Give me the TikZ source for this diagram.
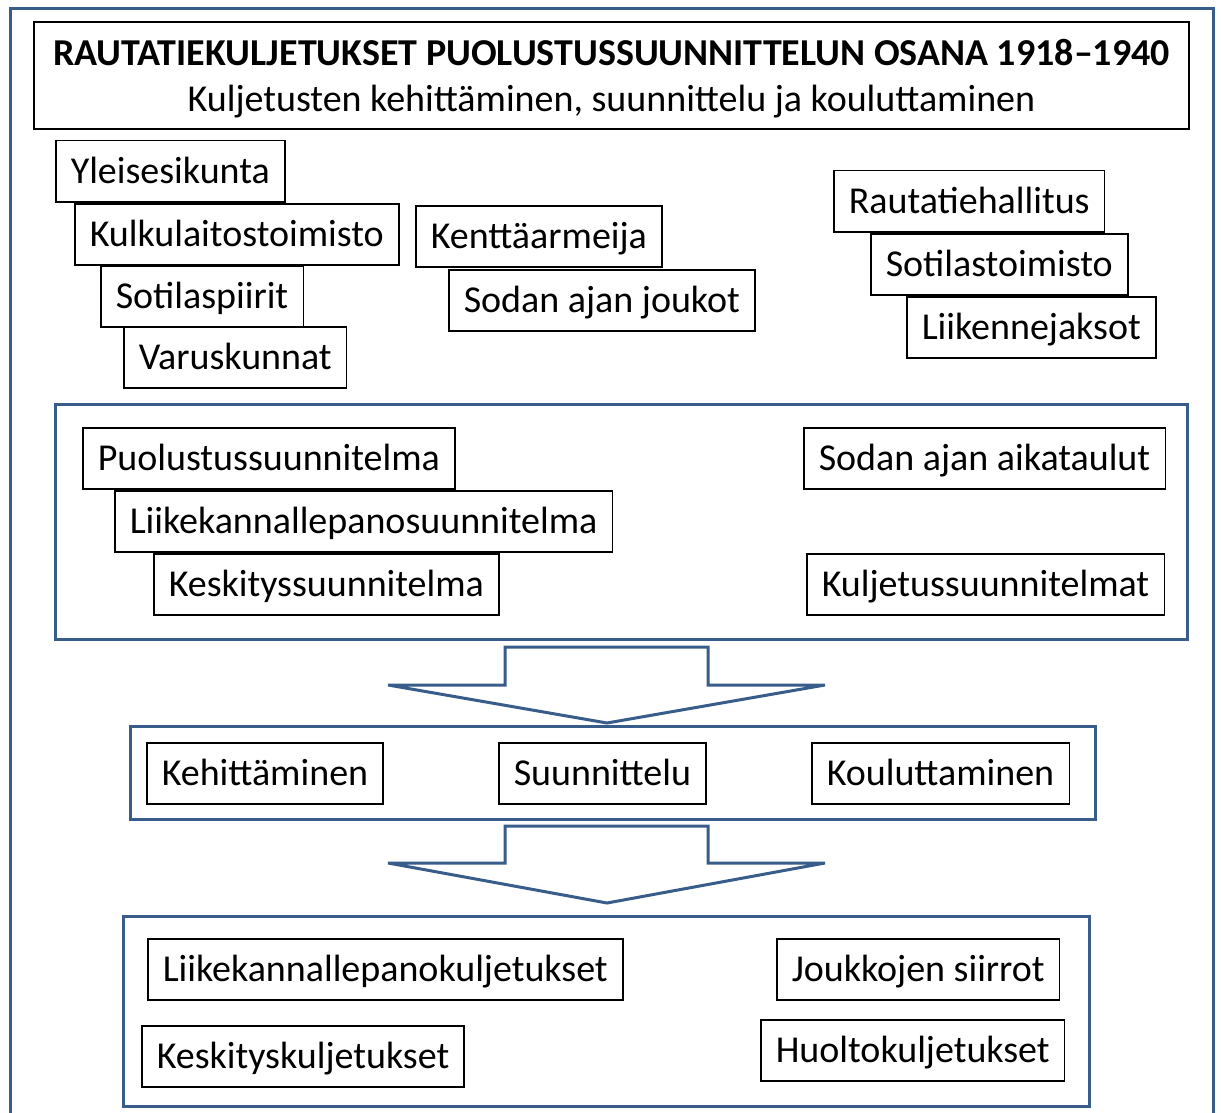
\documentclass[tikz,border=0pt]{standalone}
\usepackage{fontspec}
\setmainfont{Carlito}
\usepackage{tikz}
\usetikzlibrary{positioning}
\definecolor{frameblue}{RGB}{56,93,138}
\tikzset{
  lbl/.style = {draw=black, line width=1.5pt, fill=white, anchor=north west,
    inner xsep=15pt, inner ysep=0pt, minimum height=61pt,
    font=\fontsize{38}{44}\selectfont, text height=28pt, text depth=3pt},% tekstilaatikko
  bluebox/.style = {draw=frameblue, line width=3pt},% sininen kehys
  bigarrow/.style = {draw=frameblue, line width=3pt, fill=white}% lohkonuoli
}

\begin{document}
\begin{tikzpicture}[x=1pt,y=-1pt]
\useasboundingbox (0,0) rectangle (1221,1113);
\draw [bluebox] (10,1113) -- (10,9) -- (1213,9) -- (1213,1113);
% otsikko
\node [draw=black, line width=2pt, anchor=north west, minimum width=1155pt,
  minimum height=107pt, inner sep=0pt, align=center,
  font=\fontsize{38}{46}\selectfont] (title) at (33,21)
  {\rule{0pt}{33pt}{\bfseries RAUTATIEKULJETUKSET PUOLUSTUSSUUNNITTELUN OSANA 1918--1940}\\
   Kuljetusten kehittäminen, suunnittelu ja kouluttaminen};
% organisaatiot
\node [lbl] (yleis) at (55,140) {Yleisesikunta};
\node [lbl] (kulku) at (74,203) {Kulkulaitostoimisto};
\node [lbl] (spiirit) at (100,265) {Sotilaspiirit};
\node [lbl] (varusk) at (123,326) {Varuskunnat};
\node [lbl] (kentta) at (415,205) {Kenttäarmeija};
\node [lbl] (sjoukot) at (448,269) {Sodan ajan joukot};
\node [lbl] (rhall) at (833,170) {Rautatiehallitus};
\node [lbl] (stoim) at (870,233) {Sotilastoimisto};
\node [lbl] (ljaksot) at (906,296) {Liikennejaksot};
% suunnitelmat
\draw [bluebox] (55,404) rectangle (1187,639);
\node [lbl] (puol) at (82,427) {Puolustussuunnitelma};
\node [lbl] (lkp) at (114,490) {Liikekannallepanosuunnitelma};
\node [lbl] (kesk) at (153,553) {Keskityssuunnitelma};
\node [lbl] (aikat) at (803,427) {Sodan ajan aikataulut};
\node [lbl] (kuljs) at (806,553) {Kuljetussuunnitelmat};
\draw [bigarrow] (505,647) -- (708,647) -- (708,685) -- (825,685) -- (607,723)
  -- (388,685) -- (505,685) -- cycle;
% toiminnot
\draw [bluebox] (130,726) rectangle (1095,819);
\node [lbl] (kehit) at (146,742) {Kehittäminen};
\node [lbl] (suunn) at (498,742) {Suunnittelu};
\node [lbl] (koul) at (811,742) {Kouluttaminen};
\draw [bigarrow] (505,826) -- (708,826) -- (708,863) -- (825,863) -- (607,903)
  -- (388,863) -- (505,863) -- cycle;
% kuljetukset
\draw [bluebox] (123,916) rectangle (1089,1106);
\node [lbl] (lkpk) at (147,938) {Liikekannallepanokuljetukset};
\node [lbl] (keskk) at (141,1025) {Keskityskuljetukset};
\node [lbl] (jsiirr) at (776,938) {Joukkojen siirrot};
\node [lbl] (huolto) at (760,1019) {Huoltokuljetukset};
\end{tikzpicture}
\end{document}
